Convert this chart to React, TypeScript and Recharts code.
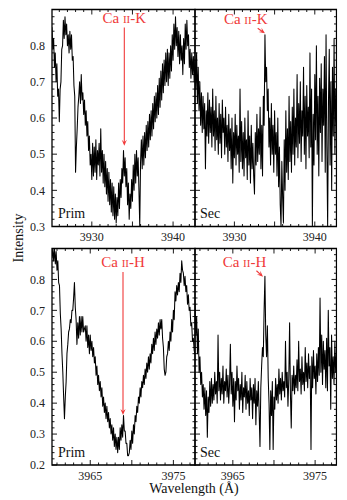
import React from 'react';
import { LineChart, Line, XAxis, YAxis, ReferenceLine, ReferenceArea } from 'recharts';

if (typeof document !== 'undefined') {
  document.documentElement.style.overflow = 'hidden';
  document.body.style.overflow = 'hidden';
}

const W = 347;
const H = 500;
const FONT = 'Liberation Serif';
const RED = '#f03a3a';

const K_START = 3925.1;
const H_START = 3960.4;
const STEP = 0.1;

const primK = [
  0.85, 0.79, 0.82, 0.74, 0.78, 0.70, 0.75, 0.66, 0.68, 0.59,
  0.68, 0.70, 0.79, 0.80, 0.87, 0.82, 0.88, 0.83, 0.86, 0.80,
  0.83, 0.78, 0.84, 0.79, 0.83, 0.76, 0.77, 0.69, 0.66, 0.45,
  0.52, 0.57, 0.63, 0.66, 0.70, 0.64, 0.72, 0.65, 0.67, 0.61,
  0.65, 0.58, 0.62, 0.55, 0.59, 0.51, 0.55, 0.47, 0.50, 0.43,
  0.53, 0.44, 0.52, 0.45, 0.54, 0.43, 0.51, 0.47, 0.53, 0.44,
  0.57, 0.45, 0.51, 0.42, 0.50, 0.41, 0.48, 0.39, 0.46, 0.37,
  0.45, 0.36, 0.43, 0.34, 0.42, 0.33, 0.41, 0.32, 0.39, 0.31,
  0.38, 0.33, 0.42, 0.35, 0.43, 0.38, 0.46, 0.42, 0.51, 0.44,
  0.49, 0.41, 0.46, 0.36, 0.42, 0.32, 0.39, 0.35, 0.43, 0.37,
  0.47, 0.40, 0.50, 0.42, 0.51, 0.44, 0.49, 0.40, 0.30, 0.48,
  0.54, 0.46, 0.55, 0.47, 0.56, 0.49, 0.58, 0.51, 0.59, 0.52,
  0.61, 0.54, 0.62, 0.55, 0.64, 0.57, 0.66, 0.59, 0.67, 0.60,
  0.69, 0.61, 0.71, 0.63, 0.73, 0.65, 0.75, 0.67, 0.76, 0.69,
  0.78, 0.70, 0.79, 0.69, 0.78, 0.71, 0.80, 0.73, 0.83, 0.76,
  0.86, 0.79, 0.88, 0.80, 0.85, 0.77, 0.84, 0.75, 0.83, 0.76,
  0.80, 0.72, 0.82, 0.75, 0.86, 0.79, 0.87, 0.80, 0.83, 0.74,
  0.79, 0.71, 0.78, 0.72, 0.77, 0.70, 0.76,
];

const secK = [
  0.76, 0.68, 0.78, 0.64, 0.74, 0.62, 0.70, 0.58, 0.67, 0.56,
  0.66, 0.57, 0.64, 0.46, 0.62, 0.55, 0.67, 0.53, 0.65, 0.56,
  0.63, 0.52, 0.68, 0.55, 0.62, 0.51, 0.66, 0.54, 0.60, 0.50,
  0.64, 0.53, 0.61, 0.49, 0.65, 0.56, 0.60, 0.50, 0.63, 0.52,
  0.58, 0.48, 0.61, 0.51, 0.57, 0.46, 0.60, 0.42, 0.56, 0.49,
  0.61, 0.47, 0.58, 0.50, 0.55, 0.45, 0.68, 0.48, 0.59, 0.46,
  0.56, 0.44, 0.60, 0.49, 0.54, 0.43, 0.62, 0.47, 0.55, 0.42,
  0.58, 0.46, 0.53, 0.44, 0.39, 0.56, 0.47, 0.61, 0.48, 0.57,
  0.50, 0.63, 0.46, 0.58, 0.44, 0.66, 0.58, 0.83, 0.70, 0.74,
  0.62, 0.68, 0.52, 0.60, 0.47, 0.64, 0.50, 0.58, 0.45, 0.62,
  0.50, 0.56, 0.44, 0.60, 0.41, 0.52, 0.36, 0.30, 0.48, 0.38,
  0.31, 0.54, 0.40, 0.62, 0.45, 0.57, 0.43, 0.66, 0.48, 0.59,
  0.45, 0.63, 0.50, 0.68, 0.47, 0.60, 0.52, 0.72, 0.49, 0.64,
  0.53, 0.70, 0.48, 0.62, 0.55, 0.74, 0.50, 0.66, 0.46, 0.69,
  0.55, 0.63, 0.49, 0.78, 0.52, 0.68, 0.30, 0.61, 0.47, 0.72,
  0.54, 0.80, 0.50, 0.66, 0.44, 0.71, 0.56, 0.75, 0.48, 0.68,
  0.58, 0.77, 0.45, 0.83, 0.52, 0.30, 0.64, 0.79, 0.47, 0.70,
  0.40, 0.74, 0.55, 0.82, 0.50, 0.68, 0.58,
];

const primH = [
  0.87, 0.90, 0.86, 0.90, 0.85, 0.89, 0.83, 0.86, 0.79, 0.78,
  0.69, 0.64, 0.56, 0.50, 0.42, 0.35, 0.42, 0.47, 0.56, 0.59,
  0.63, 0.64, 0.67, 0.66, 0.70, 0.70, 0.74, 0.79, 0.71, 0.67,
  0.59, 0.66, 0.61, 0.68, 0.62, 0.68, 0.63, 0.68, 0.63, 0.64,
  0.65, 0.60, 0.65, 0.58, 0.62, 0.56, 0.62, 0.57, 0.60, 0.55,
  0.58, 0.53, 0.55, 0.49, 0.52, 0.46, 0.49, 0.44, 0.47, 0.42,
  0.45, 0.39, 0.42, 0.37, 0.40, 0.35, 0.39, 0.34, 0.37, 0.32,
  0.35, 0.30, 0.33, 0.28, 0.32, 0.26, 0.30, 0.25, 0.29, 0.24,
  0.29, 0.25, 0.32, 0.28, 0.33, 0.29, 0.36, 0.31, 0.31, 0.27,
  0.27, 0.23, 0.23, 0.24, 0.28, 0.25, 0.31, 0.27, 0.33, 0.30,
  0.36, 0.34, 0.39, 0.37, 0.42, 0.40, 0.45, 0.42, 0.47, 0.45,
  0.49, 0.46, 0.51, 0.48, 0.53, 0.50, 0.55, 0.51, 0.56, 0.53,
  0.59, 0.56, 0.61, 0.57, 0.63, 0.59, 0.64, 0.61, 0.66, 0.62,
  0.67, 0.64, 0.67, 0.61, 0.58, 0.51, 0.49, 0.50, 0.55, 0.56,
  0.60, 0.57, 0.63, 0.60, 0.67, 0.63, 0.70, 0.67, 0.76, 0.73,
  0.78, 0.75, 0.79, 0.76, 0.82, 0.79, 0.86, 0.83, 0.82, 0.78,
  0.81, 0.76, 0.78, 0.72, 0.75, 0.70, 0.71, 0.65, 0.66, 0.60,
  0.61, 0.57, 0.56,
];

const secH = [
  0.72, 0.62, 0.68, 0.56, 0.64, 0.50, 0.55, 0.46, 0.50, 0.42,
  0.46, 0.38, 0.45, 0.36, 0.44, 0.29, 0.42, 0.37, 0.47, 0.39,
  0.48, 0.40, 0.46, 0.41, 0.50, 0.43, 0.47, 0.40, 0.62, 0.44,
  0.50, 0.41, 0.48, 0.43, 0.52, 0.40, 0.47, 0.44, 0.51, 0.42,
  0.49, 0.40, 0.46, 0.59, 0.43, 0.50, 0.39, 0.48, 0.34, 0.47,
  0.41, 0.52, 0.44, 0.48, 0.38, 0.46, 0.41, 0.50, 0.37, 0.45,
  0.42, 0.49, 0.38, 0.47, 0.40, 0.44, 0.36, 0.48, 0.41, 0.45,
  0.35, 0.46, 0.40, 0.48, 0.33, 0.44, 0.39, 0.47, 0.37, 0.26,
  0.45, 0.52, 0.58, 0.55, 0.70, 0.81, 0.62, 0.55, 0.65, 0.48,
  0.40, 0.25, 0.44, 0.36, 0.47, 0.25, 0.42, 0.38, 0.48, 0.41,
  0.46, 0.40, 0.51, 0.43, 0.48, 0.41, 0.50, 0.44, 0.47, 0.42,
  0.60, 0.45, 0.50, 0.39, 0.48, 0.66, 0.43, 0.32, 0.49, 0.44,
  0.52, 0.43, 0.49, 0.45, 0.54, 0.44, 0.60, 0.47, 0.51, 0.43,
  0.55, 0.46, 0.50, 0.44, 0.58, 0.47, 0.53, 0.45, 0.56, 0.48,
  0.52, 0.25, 0.55, 0.45, 0.57, 0.48, 0.52, 0.43, 0.56, 0.47,
  0.58, 0.49, 0.74, 0.50, 0.62, 0.46, 0.60, 0.51, 0.57, 0.45,
  0.61, 0.44, 0.70, 0.52, 0.58, 0.38, 0.62, 0.48, 0.55, 0.46,
  0.60, 0.50, 0.56,
];

const kDomain: [number, number] = [3925.1, 3942.7];
const hDomain: [number, number] = [3960.4, 3977.6];
const kYDomain: [number, number] = [0.3, 0.9];
const hYDomain: [number, number] = [0.2, 0.9];

const kXTicks = [3926, 3927, 3928, 3929, 3930, 3931, 3932, 3933, 3934, 3935, 3936, 3937, 3938, 3939, 3940, 3941, 3942];
const hXTicks = [3961, 3962, 3963, 3964, 3965, 3966, 3967, 3968, 3969, 3970, 3971, 3972, 3973, 3974, 3975, 3976, 3977];
const kXLabels = [3930, 3940];
const hXLabels = [3965, 3975];
const kYLabels = [0.3, 0.4, 0.5, 0.6, 0.7, 0.8];
const hYLabels = [0.2, 0.3, 0.4, 0.5, 0.6, 0.7, 0.8];
const kYTicks = Array.from({ length: 31 }, (_, i) => Math.round((0.3 + i * 0.02) * 100) / 100);
const hYTicks = Array.from({ length: 36 }, (_, i) => Math.round((0.2 + i * 0.02) * 100) / 100);

const rowsFrom = (start: number, values: number[]) =>
  values.map((v, i) => ({ wl: Math.round((start + i * STEP) * 100) / 100, flux: v }));

type Box = { left: number; top: number; right: number; bottom: number };
type Pt = { x: number; y: number };

const isMajorX = (v: number) => Math.abs(v / 5 - Math.round(v / 5)) < 1e-6;
const isMajorY = (v: number) => Math.abs(v * 10 - Math.round(v * 10)) < 1e-6;

function caLabel(x: number, y: number, letter: string) {
  return (
    <text x={x} y={y} textAnchor="middle" fill={RED} fontFamily={FONT} fontSize={15}>
      <tspan>Ca </tspan>
      <tspan fontSize={11}>II</tspan>
      <tspan>-{letter}</tspan>
    </text>
  );
}

function makeArrowShape(letter: string, textDx: number, textDy: number) {
  return (props: any) => {
    const { x1, y1, x2, y2 } = props;
    const dx = x2 - x1;
    const dy = y2 - y1;
    const len = Math.sqrt(dx * dx + dy * dy) || 1;
    const ux = dx / len;
    const uy = dy / len;
    const hl = 6;
    const hw = 2.6;
    const bx = x2 - ux * hl;
    const by = y2 - uy * hl;
    const pts = `${x2},${y2} ${bx - uy * hw},${by + ux * hw} ${x2 - ux * hl * 0.6},${y2 - uy * hl * 0.6} ${bx + uy * hw},${by - ux * hw}`;
    return (
      <g>
        <line x1={x1} y1={y1} x2={x2 - ux * 2} y2={y2 - uy * 2} stroke={RED} strokeWidth={1.1} />
        <polygon points={pts} fill={RED} />
        {caLabel(x1 + textDx, y1 + textDy, letter)}
      </g>
    );
  };
}

type PanelProps = {
  rows: { wl: number; flux: number }[];
  xDomain: [number, number];
  yDomain: [number, number];
  xTicks: number[];
  xLabels: number[];
  yTicks: number[];
  yLabels: number[];
  box: Box;
  arrow: { from: Pt; to: Pt };
  letter: string;
  textDx: number;
  textDy: number;
};

function Panel(p: PanelProps) {
  const { box } = p;
  const margin = { left: box.left, top: box.top, right: W - box.right, bottom: H - box.bottom };
  const [x0, x1] = p.xDomain;
  const [y0, y1] = p.yDomain;
  const pxToY = (y1 - y0) / (box.bottom - box.top);
  const pxToX = (x1 - x0) / (box.right - box.left);

  const segs: Pt[][] = [];
  p.xTicks.forEach((v) => {
    const l = (isMajorX(v) ? 5 : 2.5) * pxToY;
    segs.push([{ x: v, y: y0 }, { x: v, y: y0 + l }]);
    segs.push([{ x: v, y: y1 }, { x: v, y: y1 - l }]);
  });
  p.yTicks.forEach((v) => {
    const l = (isMajorY(v) ? 5 : 2.5) * pxToX;
    segs.push([{ x: x0, y: v }, { x: x0 + l, y: v }]);
    segs.push([{ x: x1, y: v }, { x: x1 - l, y: v }]);
  });

  const bottomLabel = (t: any) => (
    <text x={t.x} y={box.bottom + 14.5} textAnchor="middle" fontFamily={FONT} fontSize={12} fill="#222">
      {t.payload.value}
    </text>
  );
  const leftLabel = (t: any) => (
    <text x={box.left - 7} y={t.y + 4.2} textAnchor="end" fontFamily={FONT} fontSize={12} fill="#222">
      {Number(t.payload.value).toFixed(1)}
    </text>
  );

  return (
    <div style={{ position: 'absolute', left: 0, top: 0 }}>
      <LineChart width={W} height={H} data={p.rows} margin={margin}>
        <XAxis xAxisId="b" dataKey="wl" type="number" domain={p.xDomain} allowDataOverflow orientation="bottom" mirror
          ticks={p.xLabels} interval={0} tick={bottomLabel} tickLine={false} axisLine={false} />
        <YAxis yAxisId="l" type="number" domain={p.yDomain} allowDataOverflow orientation="left" mirror
          ticks={p.yLabels.length ? p.yLabels : [y0]} interval={0}
          tick={p.yLabels.length ? leftLabel : false} tickLine={false} axisLine={false} />
        <Line xAxisId="b" yAxisId="l" type="linear" dataKey="flux" stroke="#000" strokeWidth={1.05}
          strokeLinejoin="round" strokeLinecap="round" dot={false} isAnimationActive={false} />
        {segs.map((s, i) => (
          <ReferenceLine key={i} xAxisId="b" yAxisId="l" segment={s} stroke="#000" strokeWidth={0.9} ifOverflow="visible" />
        ))}
        <ReferenceArea xAxisId="b" yAxisId="l" x1={x0} x2={x1} y1={y0} y2={y1}
          fill="none" fillOpacity={0} stroke="#000" strokeWidth={1.3} ifOverflow="visible" />
        <ReferenceLine xAxisId="b" yAxisId="l" segment={[p.arrow.from, p.arrow.to]} ifOverflow="visible"
          shape={makeArrowShape(p.letter, p.textDx, p.textDy)} />
      </LineChart>
    </div>
  );
}

const boxTL: Box = { left: 52, top: 9.5, right: 195, bottom: 226.5 };
const boxTR: Box = { left: 195, top: 9.5, right: 336.5, bottom: 226.5 };
const boxBL: Box = { left: 52, top: 248.5, right: 195, bottom: 465 };
const boxBR: Box = { left: 195, top: 248.5, right: 336.5, bottom: 465 };

export default function App() {
  return (
    <div style={{ position: 'absolute', left: 0, top: 0, width: W, height: H, background: '#fff', overflow: 'hidden' }}>
      <Panel rows={rowsFrom(K_START, primK)} xDomain={kDomain} yDomain={kYDomain} xTicks={kXTicks} xLabels={kXLabels}
        yTicks={kYTicks} yLabels={kYLabels} box={boxTL}
        arrow={{ from: { x: 3934.0, y: 0.85 }, to: { x: 3934.0, y: 0.523 } }} letter="K" textDx={0} textDy={-5} />
      <Panel rows={rowsFrom(K_START, secK)} xDomain={kDomain} yDomain={kYDomain} xTicks={kXTicks} xLabels={kXLabels}
        yTicks={kYTicks} yLabels={[]} box={boxTR}
        arrow={{ from: { x: 3932.9, y: 0.848 }, to: { x: 3933.8, y: 0.834 } }} letter="K" textDx={-12} textDy={-4} />
      <Panel rows={rowsFrom(H_START, primH)} xDomain={hDomain} yDomain={hYDomain} xTicks={hXTicks} xLabels={hXLabels}
        yTicks={hYTicks} yLabels={hYLabels} box={boxBL}
        arrow={{ from: { x: 3968.94, y: 0.824 }, to: { x: 3968.94, y: 0.362 } }} letter="H" textDx={0} textDy={-5} />
      <Panel rows={rowsFrom(H_START, secH)} xDomain={hDomain} yDomain={hYDomain} xTicks={hXTicks} xLabels={hXLabels}
        yTicks={hYTicks} yLabels={[]} box={boxBR}
        arrow={{ from: { x: 3967.87, y: 0.828 }, to: { x: 3968.67, y: 0.809 } }} letter="H" textDx={-12} textDy={-4} />
      <svg width={W} height={H} style={{ position: 'absolute', left: 0, top: 0, pointerEvents: 'none' }}>
        <rect x={337.3} y={0} width={W - 337.3} height={H} fill="#fff" />
        <g fill="#111" fontFamily={FONT}>
          <text x={58} y={217.5} fontSize={14}>Prim</text>
          <text x={200} y={217.5} fontSize={14}>Sec</text>
          <text x={58} y={457} fontSize={14}>Prim</text>
          <text x={200} y={457} fontSize={14}>Sec</text>
          <text x={22.5} y={238} fontSize={14} textAnchor="middle" transform="rotate(-90 22.5 238)">Intensity</text>
          <text x={194} y={493} fontSize={14} textAnchor="middle">Wavelength (Å)</text>
        </g>
      </svg>
    </div>
  );
}
